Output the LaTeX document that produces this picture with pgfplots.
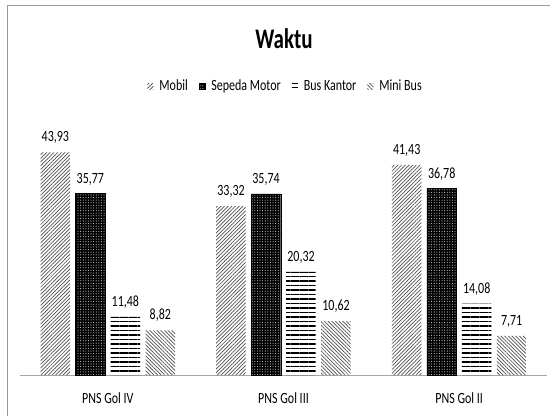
\documentclass[border=0pt]{standalone}
\usepackage{fontspec}
\setmainfont{Carlito}
\usepackage{graphicx}
\usepackage{pgfplots}
\pgfplotsset{compat=1.18}
\usetikzlibrary{patterns,patterns.meta}
\newcommand{\tall}[1]{\scalebox{1}[1.3]{#1}}
\begin{document}
\begin{tikzpicture}[x=1pt,y=1pt]
\path[use as bounding box] (0,0) rectangle (550,416);
\draw[gray!80, line width=1pt] (7,0) -- (7,410) -- (551,410);
\node[font=\fontsize{21}{24}\selectfont\bfseries, anchor=base] at (284,367) {\scalebox{1}[1.35]{Waktu}};
\begin{axis}[
  at={(20pt,41pt)}, anchor=south west,
  scale only axis, width=527pt, height=253.5pt,
  xmin=-0.5, xmax=2.5, ymin=0, ymax=50,
  ybar=5.5pt, bar width=29.5pt,
  axis x line*=bottom, axis y line=none,
  x axis line style={gray!70, line width=0.8pt},
  xtick={0,1,2}, xticklabels={\tall{PNS Gol IV},\tall{PNS Gol III},\tall{PNS Gol II}},
  xtick style={draw=none},
  xticklabel style={font=\fontsize{12}{14}\selectfont, yshift=-10pt},
  nodes near coords={\tall{\pgfmathprintnumber{\pgfplotspointmeta}}},
  every node near coord/.append style={font=\fontsize{12}{14}\selectfont, black, yshift=5pt},
  /pgf/number format/.cd, use comma, fixed, fixed zerofill, precision=2, assume math mode=true,
  /pgfplots/.cd,
  legend columns=-1,
  legend style={draw=none, at={(0.504,1)}, anchor=center, yshift=35.5pt,
    font=\fontsize{12}{14}\selectfont,
    /tikz/every even column/.append style={column sep=9pt}},
  legend image code/.code={\draw[#1, draw=none] (0pt,-3pt) rectangle (6pt,3pt); \path (10pt,0pt);},
]
\addplot[draw=none, pattern={Lines[angle=45,distance=2.6pt,line width=0.7pt]}, pattern color=black!70]
  coordinates {(0,43.93) (1,33.32) (2,41.43)};
\addplot[draw=black, fill=black, postaction={pattern={Dots[distance=2.6pt,radius=0.55pt]}, pattern color=white!80!black}]
  coordinates {(0,35.77) (1,35.74) (2,36.78)};
\addplot[draw=none, pattern={Lines[angle=0,distance=4.5pt,line width=1.4pt]}, pattern color=black]
  coordinates {(0,11.48) (1,20.32) (2,14.08)};
\addplot[draw=none, pattern={Lines[angle=-45,distance=2.6pt,line width=0.7pt]}, pattern color=black!70]
  coordinates {(0,8.82) (1,10.62) (2,7.71)};
\legend{\tall{Mobil},\tall{Sepeda Motor},\tall{Bus Kantor},\tall{Mini Bus}}
\end{axis}
\end{tikzpicture}
\end{document}
